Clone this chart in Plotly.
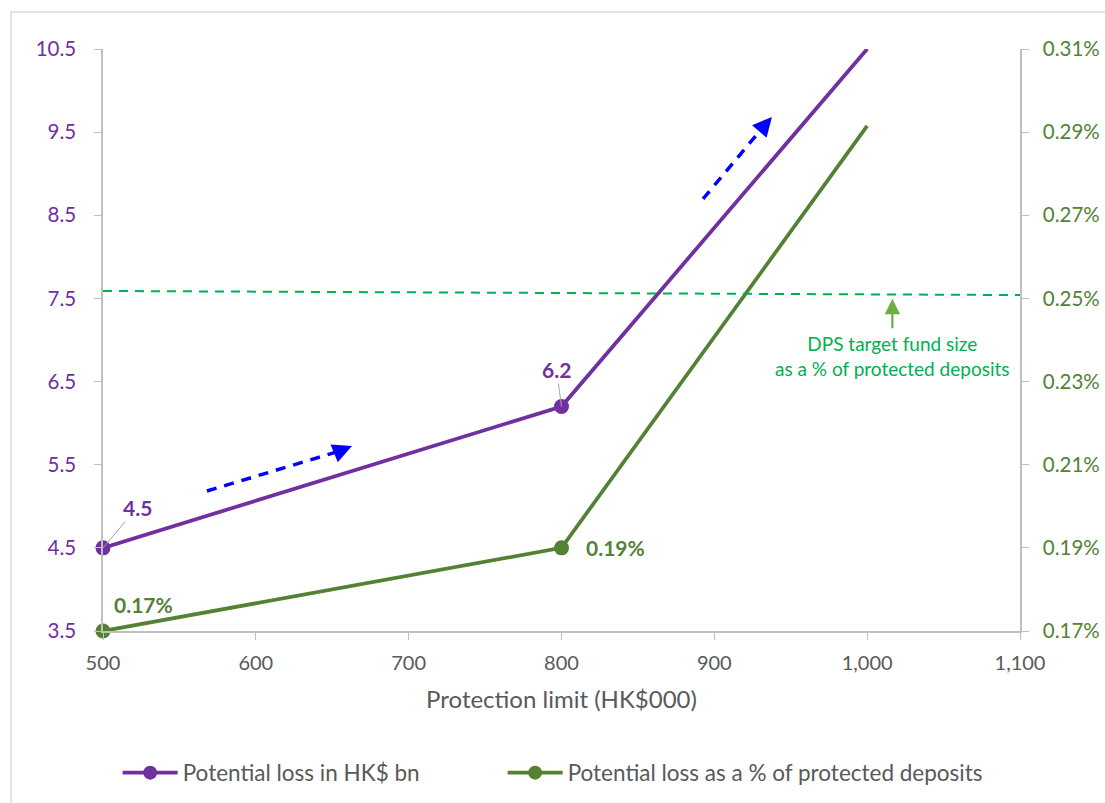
import plotly.graph_objects as go

# Protection limit (HK$000)
limits = [500, 800, 1000]
# Potential loss in HK$ bn
loss_bn = [4.5, 6.2, 10.5]
# Potential loss as a share of protected deposits
loss_pct = [0.0017, 0.0019, 0.002915]
# DPS target fund size as a share of protected deposits
target_pct = [0.002518, 0.002508]

x_ticks = [500, 600, 700, 800, 900, 1000, 1100]
left_ticks = [3.5, 4.5, 5.5, 6.5, 7.5, 8.5, 9.5, 10.5]
right_ticks = [0.0017, 0.0019, 0.0021, 0.0023, 0.0025, 0.0027, 0.0029, 0.0031]

PURPLE = "#7030A0"
GREEN = "#548235"
BRIGHT_GREEN = "#00B050"
ARROW_GREEN = "#70AD47"
GREY = "#BFBFBF"
TEXT = "#595959"
FONT = "Lato"

fig = go.Figure()

series = [
    ("Potential loss in HK$ bn", loss_bn, "y", PURPLE, "legend"),
    ("Potential loss as a % of protected deposits", loss_pct, "y2", GREEN, "legend2"),
]
for name, vals, axis, color, leg in series:
    # plotted line, markers only at the first two points
    fig.add_trace(go.Scatter(
        x=limits, y=vals, name=name, mode="lines+markers", yaxis=axis,
        showlegend=False, cliponaxis=False,
        line=dict(color=color, width=3.75),
        marker=dict(color=color, size=[15, 15, 0], opacity=1, line=dict(width=0)),
    ))
    # legend entry
    fig.add_trace(go.Scatter(
        x=[None], y=[None], name=name, mode="lines+markers", yaxis=axis,
        legend=leg,
        line=dict(color=color, width=3.75),
        marker=dict(color=color, size=14, opacity=1, line=dict(width=0)),
    ))

shapes = []
annotations = []

# Chart border
shapes.append(dict(type="rect", xref="paper", yref="paper",
                   x0=-0.1003, x1=1.2, y0=-0.4, y1=1.0636,
                   line=dict(color="#D9D9D9", width=1.5), layer="below"))

# Target fund size reference line
shapes.append(dict(type="line", xref="x", yref="y2",
                   x0=500, x1=1106, y0=target_pct[0], y1=target_pct[1],
                   line=dict(color=BRIGHT_GREEN, width=2, dash="9px,7px")))

# Trend arrows (dashed shaft + filled head)
trend_arrows = [
    ((568.0, 5.184), (654.8, 5.664), (662.9, 5.725)),
    ((892.6, 8.696), (930.5, 9.530), (937.7, 9.682)),
]
for (sx, sy), (bx, by), (tx, ty) in trend_arrows:
    shapes.append(dict(type="line", xref="x", yref="y",
                       x0=sx, y0=sy, x1=bx, y1=by,
                       line=dict(color="#0000FF", width=3.5, dash="10px,8px")))
    annotations.append(dict(x=tx, y=ty, xref="x", yref="y",
                            ax=bx, ay=by, axref="x", ayref="y",
                            text="", showarrow=True, arrowhead=2,
                            arrowsize=1.1, arrowwidth=3.5, arrowcolor="#0000FF"))

# Data labels
lab_font = dict(family=FONT, size=21, color=PURPLE)
annotations.append(dict(x=limits[0], y=loss_bn[0], xref="x", yref="y",
                        text="<b>4.5</b>", font=lab_font, showarrow=True,
                        arrowhead=0, arrowwidth=1, arrowcolor="#A6A6A6",
                        ax=34, ay=-40))
annotations.append(dict(x=limits[1], y=loss_bn[1], xref="x", yref="y",
                        text="<b>6.2</b>", font=lab_font, showarrow=True,
                        arrowhead=0, arrowwidth=1, arrowcolor="#A6A6A6",
                        ax=-5, ay=-37))
gfont = dict(family=FONT, size=21, color=GREEN)
annotations.append(dict(x=limits[0], y=loss_pct[0], xref="x", yref="y2",
                        text="<b>0.17%</b>", font=gfont, showarrow=False,
                        xshift=40, yshift=27))
annotations.append(dict(x=limits[1], y=loss_pct[1], xref="x", yref="y2",
                        text="<b>0.19%</b>", font=gfont, showarrow=False,
                        xshift=54, yshift=0))

# Target fund size note
annotations.append(dict(x=1016.5, y=0.002499, xref="x", yref="y2",
                        ax=0, ay=31, text="", showarrow=True, arrowhead=2,
                        arrowsize=1.4, arrowwidth=2.2, arrowcolor=ARROW_GREEN))
annotations.append(dict(x=1016.5, y=0.002361, xref="x", yref="y2",
                        text="DPS target fund size<br>as a % of protected deposits",
                        showarrow=False, align="center",
                        font=dict(family=FONT, size=19, color=BRIGHT_GREEN)))

legend_style = dict(orientation="h", xanchor="left", y=-0.244, yanchor="middle",
                    font=dict(family=FONT, size=22.5, color=TEXT),
                    itemwidth=55, bgcolor="rgba(0,0,0,0)")

fig.update_layout(
    width=1105, height=803,
    margin=dict(l=103, r=85, t=49, b=172, autoexpand=False),
    paper_bgcolor="white", plot_bgcolor="white",
    font=dict(family=FONT, color=TEXT),
    showlegend=True,
    legend=dict(x=0.016, **legend_style),
    legend2=dict(x=0.4358, **legend_style),
    xaxis=dict(range=[500, 1100], tickvals=x_ticks, tickformat=",",
               showgrid=False, zeroline=False, automargin=False,
               showline=True, linecolor=GREY, linewidth=1.5,
               ticks="outside", ticklen=7, tickcolor=GREY,
               ticklabelstandoff=6,
               tickfont=dict(family=FONT, size=20, color=TEXT),
               title=dict(text="Protection limit (HK$000)", standoff=18,
                          font=dict(family=FONT, size=24, color=TEXT))),
    yaxis=dict(range=[3.5, 10.5], tickvals=left_ticks, tickformat=".1f",
               showgrid=False, zeroline=False, automargin=False,
               showline=True, linecolor=GREY, linewidth=1.5,
               ticks="outside", ticklen=7, tickcolor=GREY,
               ticklabelstandoff=14,
               tickfont=dict(family=FONT, size=20.5, color=PURPLE)),
    yaxis2=dict(range=[0.0017, 0.0031], tickvals=right_ticks, tickformat=".2%",
                overlaying="y", side="right",
                showgrid=False, zeroline=False, automargin=False,
                showline=True, linecolor=GREY, linewidth=1.5,
                ticks="outside", ticklen=7, tickcolor=GREY,
                ticklabelstandoff=10,
                tickfont=dict(family=FONT, size=20.5, color=GREEN)),
    shapes=shapes,
    annotations=annotations,
)

fig.write_html("out.html")
